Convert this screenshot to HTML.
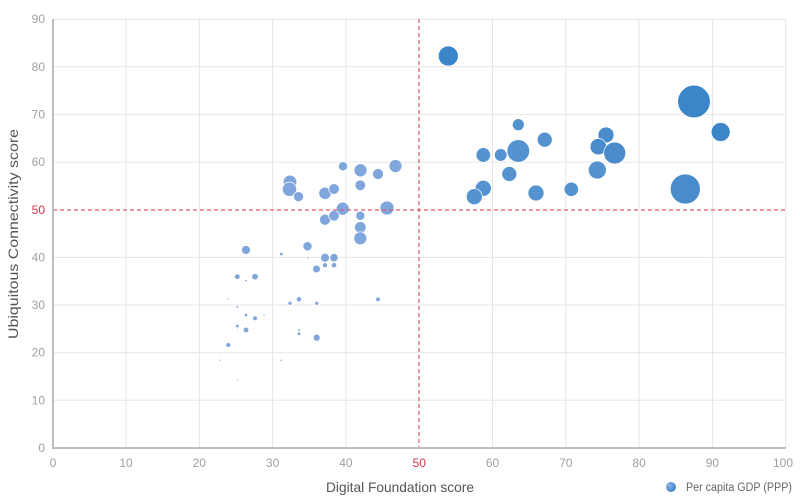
<!DOCTYPE html>
<html><head><meta charset="utf-8"><style>
html,body{margin:0;padding:0;background:#fff;}
svg{display:block;font-family:"Liberation Sans",sans-serif;}
</style></head><body>
<svg width="800" height="500" viewBox="0 0 800 500" xmlns="http://www.w3.org/2000/svg">
<defs>
<radialGradient id="lg" cx="35%" cy="35%" r="70%"><stop offset="0" stop-color="#8fb4e6"/><stop offset="1" stop-color="#3a7fc4"/></radialGradient>
</defs>
<g stroke="#e6e6e6" stroke-width="1">
<line x1="126" y1="19" x2="126" y2="448"/><line x1="199.3" y1="19" x2="199.3" y2="448"/><line x1="272.6" y1="19" x2="272.6" y2="448"/><line x1="345.9" y1="19" x2="345.9" y2="448"/><line x1="492.5" y1="19" x2="492.5" y2="448"/><line x1="565.8" y1="19" x2="565.8" y2="448"/><line x1="639.1" y1="19" x2="639.1" y2="448"/><line x1="712.4" y1="19" x2="712.4" y2="448"/><line x1="785.7" y1="19" x2="785.7" y2="448"/>
<line x1="53" y1="400.3" x2="786" y2="400.3"/><line x1="53" y1="352.7" x2="786" y2="352.7"/><line x1="53" y1="305" x2="786" y2="305"/><line x1="53" y1="257.4" x2="786" y2="257.4"/><line x1="53" y1="162.1" x2="786" y2="162.1"/><line x1="53" y1="114.4" x2="786" y2="114.4"/><line x1="53" y1="66.8" x2="786" y2="66.8"/><line x1="53" y1="19.2" x2="786" y2="19.2"/>
</g>
<g fill="#7fa7dd" stroke="#fff" stroke-width="0.7">
<circle cx="343" cy="166.3" r="4.6"/><circle cx="360.5" cy="170.3" r="6.5"/><circle cx="378" cy="174" r="5.5"/><circle cx="395.5" cy="166" r="6.5"/>
<circle cx="290" cy="182" r="6.8"/><circle cx="289.5" cy="189.3" r="7.2"/><circle cx="298.5" cy="196.7" r="5"/><circle cx="325" cy="193.3" r="6.2"/><circle cx="334" cy="189" r="5.3"/><circle cx="360.3" cy="185.3" r="5.3"/>
<circle cx="342.7" cy="208.7" r="6.5"/><circle cx="325" cy="219.7" r="5.5"/><circle cx="334" cy="215.7" r="5.3"/><circle cx="387" cy="208" r="7"/>
<circle cx="360.3" cy="215.7" r="4.6"/><circle cx="360.3" cy="227.3" r="5.8"/><circle cx="360.3" cy="238.3" r="6.5"/>
<circle cx="246" cy="250" r="4.5"/><circle cx="281.3" cy="254" r="1.7"/><circle cx="307.5" cy="246.2" r="4.6"/><circle cx="307.7" cy="257.7" r="1.1"/>
<circle cx="325" cy="257.7" r="4.4"/><circle cx="334" cy="257.7" r="4.2"/><circle cx="325" cy="265.2" r="2.5"/><circle cx="334" cy="265.2" r="2.7"/><circle cx="316.5" cy="269" r="3.9"/>
<circle cx="237.3" cy="276.7" r="2.8"/><circle cx="255" cy="276.7" r="3.3"/><circle cx="246" cy="280.7" r="1.2"/>
<circle cx="228.3" cy="299.3" r="1"/><circle cx="237.3" cy="307" r="1.3"/><circle cx="246" cy="315" r="1.7"/><circle cx="255" cy="318.3" r="2.4"/><circle cx="264" cy="315" r="1"/>
<circle cx="237.3" cy="326" r="1.8"/><circle cx="237.3" cy="330" r="0.8"/><circle cx="246" cy="330" r="2.8"/><circle cx="228.3" cy="345" r="2.4"/>
<circle cx="219.7" cy="360.3" r="1"/><circle cx="210.7" cy="364.3" r="0.6"/><circle cx="281.3" cy="360.3" r="1.1"/><circle cx="237.3" cy="379.7" r="0.8"/>
<circle cx="290" cy="303.3" r="2"/><circle cx="299" cy="299.3" r="2.6"/><circle cx="316.7" cy="303.3" r="2"/><circle cx="378" cy="299.3" r="2.3"/>
<circle cx="299" cy="330" r="1.3"/><circle cx="299" cy="333.7" r="1.8"/><circle cx="316.7" cy="337.7" r="3.5"/>
</g>
<g fill="#5592d0" stroke="#fff" stroke-width="0.7">
<circle cx="483.3" cy="155" r="7.3"/><circle cx="500.7" cy="155" r="6.3"/><circle cx="518.3" cy="124.7" r="6"/><circle cx="544.7" cy="139.7" r="7.5"/>
<circle cx="509.3" cy="174" r="7.5"/><circle cx="483.3" cy="188.3" r="8"/><circle cx="474.3" cy="196.7" r="8"/><circle cx="536" cy="193" r="8"/><circle cx="571.3" cy="189.3" r="7.2"/>
<circle cx="597.3" cy="170" r="9"/>
<circle cx="518.3" cy="151" r="11.3"/>
</g>
<g fill="#4a8bcc" stroke="#fff" stroke-width="0.7">
<circle cx="606" cy="135" r="8"/><circle cx="598.3" cy="146.7" r="8.2"/><circle cx="614.7" cy="153" r="11"/>
<circle cx="685.3" cy="189" r="15"/>
</g>
<g fill="#3b86c8" stroke="#fff" stroke-width="0.7">
<circle cx="448.3" cy="56" r="10"/><circle cx="720.7" cy="132" r="9.5"/><circle cx="694" cy="101.5" r="16.3"/>
</g>
<g stroke="#e05a6a" stroke-width="1.2" stroke-dasharray="4,3" fill="none">
<line x1="419" y1="19" x2="419" y2="448"/>
<line x1="53" y1="210" x2="786" y2="210"/>
</g>
<g stroke="#bdbdbd" stroke-width="2" fill="none">
<line x1="53" y1="19" x2="53" y2="449"/>
<line x1="52" y1="448" x2="786" y2="448"/>
</g>
<g fill="#a0a0a0" font-size="12" text-anchor="end">
<text x="45" y="452">0</text><text x="45" y="404.3">10</text><text x="45" y="356.7">20</text><text x="45" y="309">30</text><text x="45" y="261.4">40</text><text x="45" y="214" fill="#d9314a">50</text><text x="45" y="166.1">60</text><text x="45" y="118.4">70</text><text x="45" y="70.8">80</text><text x="45" y="23.2">90</text>
</g>
<g fill="#a0a0a0" font-size="12" text-anchor="middle">
<text x="53" y="467">0</text><text x="126" y="467">10</text><text x="199.3" y="467">20</text><text x="272.6" y="467">30</text><text x="345.9" y="467">40</text><text x="419.2" y="467" fill="#d9314a">50</text><text x="492.5" y="467">60</text><text x="565.8" y="467">70</text><text x="639.1" y="467">80</text><text x="712.4" y="467">90</text><text x="783" y="467">100</text>
</g>
<text x="326" y="492" font-size="14" fill="#555" textLength="148" lengthAdjust="spacingAndGlyphs">Digital Foundation score</text>
<text transform="translate(18,339) rotate(-90)" font-size="14" fill="#555" textLength="210" lengthAdjust="spacingAndGlyphs">Ubiquitous Connectivity score</text>
<circle cx="671" cy="487" r="5" fill="url(#lg)"/>
<text x="686" y="491" font-size="11.5" fill="#666" textLength="106" lengthAdjust="spacingAndGlyphs">Per capita GDP (PPP)</text>
</svg>
</body></html>
